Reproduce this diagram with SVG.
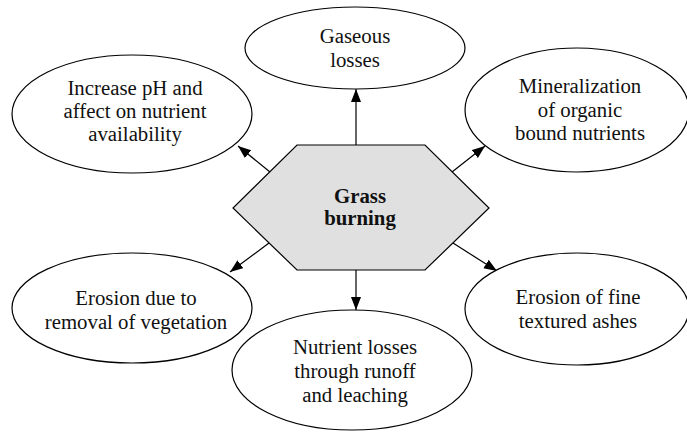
<svg xmlns="http://www.w3.org/2000/svg" width="687" height="433" viewBox="0 0 687 433">
<style>
.n{fill:#fff;stroke:#000;stroke-width:1.2}
.h{fill:#e0e0e0;stroke:#000;stroke-width:1.2}
.t{font-family:'Liberation Serif','DejaVu Serif',serif;font-size:20.8px;fill:#111;text-anchor:middle}
.b{font-weight:bold}
.c{stroke:#000;stroke-width:1.2;fill:none;marker-end:url(#ah)}
</style>
<defs>
<marker id="ah" markerUnits="userSpaceOnUse" markerWidth="14" markerHeight="12" refX="13" refY="5" orient="auto">
<path d="M0,0 L13,5 L0,10 Z" fill="#000"/>
</marker>
</defs>
<rect width="687" height="433" fill="#fff"/>
<g id="connectors">
<line class="c" x1="356" y1="145" x2="356" y2="89"/>
<line class="c" x1="270" y1="172" x2="238" y2="146"/>
<line class="c" x1="452" y1="172" x2="485" y2="146"/>
<line class="c" x1="269" y1="243" x2="230" y2="272"/>
<line class="c" x1="453" y1="243" x2="497" y2="271"/>
<line class="c" x1="356" y1="270" x2="356" y2="310"/>
</g>
<g font-family="Liberation Serif, DejaVu Serif, serif">
<g id="center">
<polygon class="h" points="297,145 425,145 489,208 425,270 297,270 233,208"/>
<text class="t b" x="360" y="203">Grass</text>
<text class="t b" x="360" y="225">burning</text>
</g>
<g id="gaseous">
<ellipse class="n" cx="355" cy="48" rx="110" ry="41"/>
<text class="t" x="355" y="43">Gaseous</text>
<text class="t" x="355" y="67">losses</text>
</g>
<g id="increase">
<ellipse class="n" cx="132" cy="114" rx="120" ry="59"/>
<text class="t" x="135" y="95">Increase pH and</text>
<text class="t" x="135" y="118">affect on nutrient</text>
<text class="t" x="135" y="141">availability</text>
</g>
<g id="mineral">
<ellipse class="n" cx="577" cy="110" rx="112" ry="62"/>
<text class="t" x="580" y="93">Mineralization</text>
<text class="t" x="580" y="117">of organic</text>
<text class="t" x="580" y="140">bound nutrients</text>
</g>
<g id="erosionveg">
<ellipse class="n" cx="132" cy="308" rx="120" ry="55"/>
<text class="t" x="136" y="305">Erosion due to</text>
<text class="t" x="136" y="329">removal of vegetation</text>
</g>
<g id="erosionash">
<ellipse class="n" cx="577" cy="309" rx="112" ry="56"/>
<text class="t" x="578" y="304">Erosion of fine</text>
<text class="t" x="578" y="328">textured ashes</text>
</g>
<g id="nutrient">
<ellipse class="n" cx="352" cy="370" rx="120" ry="60"/>
<text class="t" x="355" y="354">Nutrient losses</text>
<text class="t" x="355" y="378">through runoff</text>
<text class="t" x="355" y="402">and leaching</text>
</g>
</g>
</svg>
